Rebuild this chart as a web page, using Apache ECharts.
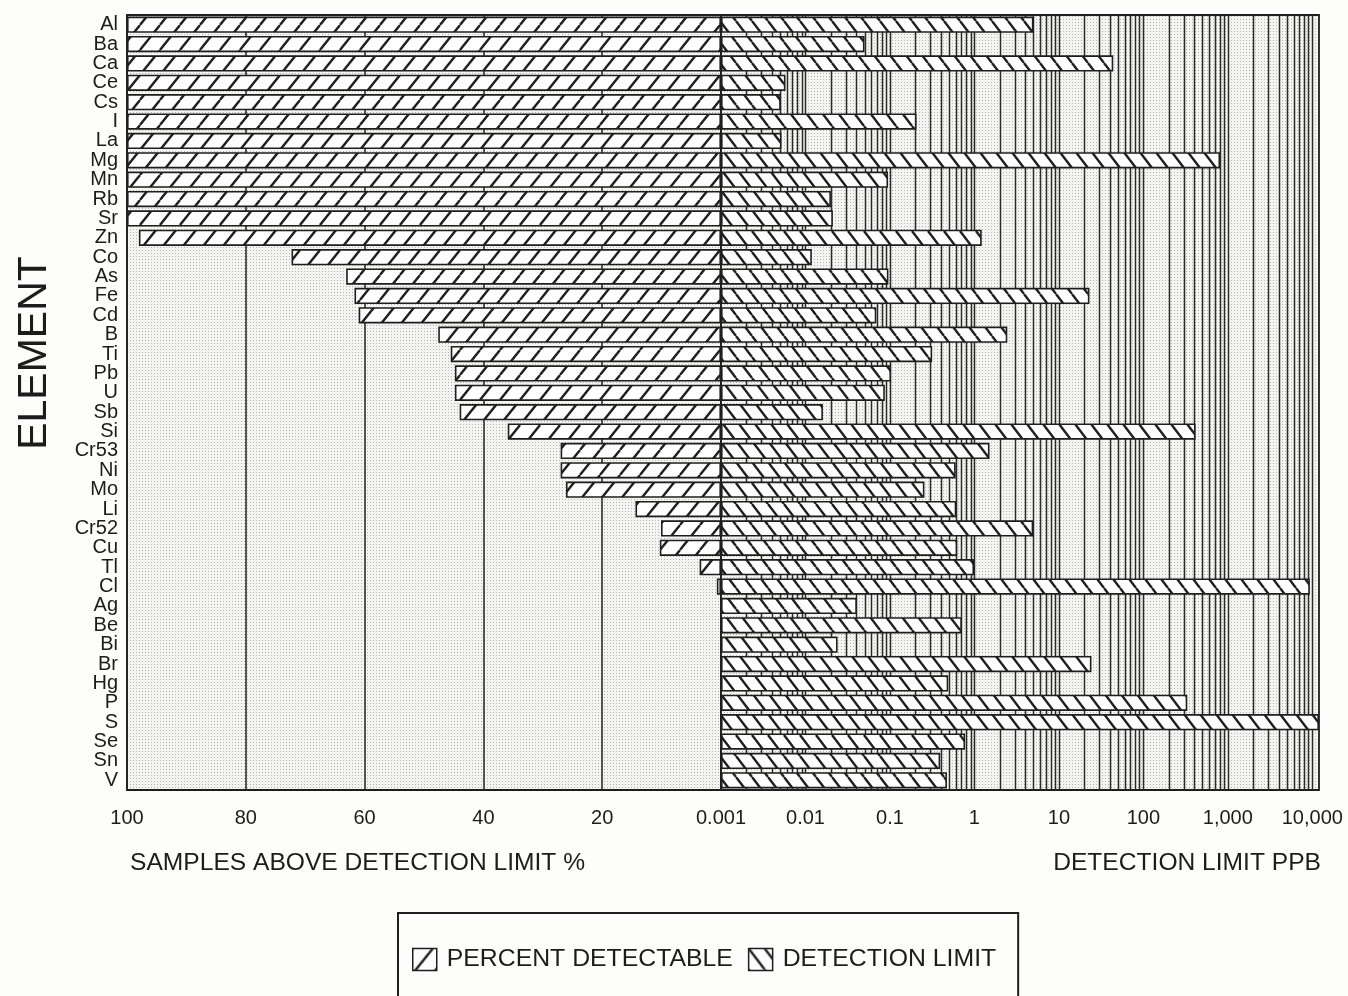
<!DOCTYPE html>
<html>
<head>
<meta charset="utf-8">
<script src="https://cdn.jsdelivr.net/npm/echarts@6/dist/echarts.min.js"></script>
<style>
  html, body { margin: 0; padding: 0; background: #fdfdfc; }
  #chart { width: 1348px; height: 996px; }
</style>
</head>
<body>
<div id="chart"></div>
<script>
// Elements, top to bottom
const elements = ['Al','Ba','Ca','Ce','Cs','I','La','Mg','Mn','Rb','Sr','Zn','Co','As','Fe','Cd','B','Ti','Pb','U','Sb','Si','Cr53','Ni','Mo','Li','Cr52','Cu','Tl','Cl','Ag','Be','Bi','Br','Hg','P','S','Se','Sn','V'];

// Share of samples above the detection limit, %
const percentDetectable = [100,100,100,100,100,100,100,100,100,100,100,98,72.3,63.1,61.7,61,47.6,45.5,44.8,44.8,44,35.9,27,27,26.1,14.4,10.1,10.3,3.6,0.7,0,0,0,0,0,0,0,0,0,0];

// Detection limit, ppb
const detectionLimit = [5.0,0.05,44,0.0058,0.0051,0.206,0.0052,810,0.095,0.020,0.0211,1.22,0.0119,0.096,23,0.069,2.45,0.316,0.103,0.087,0.0161,415,1.51,0.60,0.256,0.61,4.97,0.625,0.99,9350,0.0406,0.71,0.024,24.3,0.49,331,12000,0.776,0.393,0.473];

// Axis tick labels
const percentTickLabels = {100: '100', 80: '80', 60: '60', 40: '40', 20: '20'};
const limitTickLabels = ['0.001','0.01','0.1','1','10','100','1,000','10,000'];
const limitDecades = [-3,-2,-1,0,1,2,3];
const logMantissas = [1,2,3,4,5,6,7,8,9];

const INK = '#1c1c1c';
const FONT = '"Liberation Sans", Arial, Helvetica, sans-serif';

// Fill patterns: diagonal hatching and the stippled plot background
function hatch(w, h, forward) {
  const c = document.createElement('canvas');
  c.width = w; c.height = h;
  const g = c.getContext('2d');
  g.fillStyle = '#fefefe';
  g.fillRect(0, 0, w, h);
  g.strokeStyle = '#202020';
  g.lineWidth = 2.4;
  g.beginPath();
  for (let k = -1; k <= 1; k++) {
    if (forward) { g.moveTo(k * w, h); g.lineTo((k + 1) * w, 0); }
    else { g.moveTo(k * w, 0); g.lineTo((k + 1) * w, h); }
  }
  g.stroke();
  return { image: c, repeat: 'repeat' };
}
function stipple() {
  const c = document.createElement('canvas');
  c.width = 3; c.height = 3;
  const g = c.getContext('2d');
  g.fillStyle = '#f4f4f3';
  g.fillRect(0, 0, 3, 3);
  g.fillStyle = '#b4b4b4';
  g.fillRect(1, 1, 1, 1);
  return { image: c, repeat: 'repeat' };
}

const slashFill = hatch(20, 25, true);
const backslashFill = hatch(16, 21, false);

// Log grid lines of the detection-limit panel
const logGrid = [];
limitDecades.forEach(d => logMantissas.forEach(m => {
  const v = m * Math.pow(10, d);
  if (!(m === 1 && d === -3)) logGrid.push([v, 0]);
}));
logGrid.push([10000, 0]);

const chart = echarts.init(document.getElementById('chart'), null, { renderer: 'canvas' });

const gridCommon = {
  top: 15, height: 775, show: true,
  backgroundColor: stipple(),
  borderColor: '#1e1e1e', borderWidth: 1.8
};

chart.setOption({
  backgroundColor: '#fdfdfc',
  animation: false,
  textStyle: { fontFamily: FONT, color: INK },
  grid: [
    Object.assign({ left: 127, width: 594 }, gridCommon),
    Object.assign({ left: 721, width: 598 }, gridCommon)
  ],
  xAxis: [
    {
      gridIndex: 0, type: 'value', inverse: true, min: 0, max: 100, interval: 20,
      axisLine: { show: false }, axisTick: { show: false },
      axisLabel: {
        fontSize: 20, color: INK, fontFamily: FONT, margin: 18,
        formatter: v => percentTickLabels[v] || ''
      },
      splitLine: { show: true, lineStyle: { color: '#222', width: 1.5 } }
    },
    {
      gridIndex: 1, type: 'log', logBase: 10, min: 0.001, max: 12000, startValue: 0.001,
      axisLine: { show: false }, axisTick: { show: false },
      axisLabel: {
        fontSize: 20, color: INK, fontFamily: FONT, margin: 18,
        showMaxLabel: false,
        formatter: v => {
          const l = Math.log10(v);
          const e = Math.round(l);
          if (Math.abs(l - e) > 1e-6) return '';
          return limitTickLabels[e + 3] || '';
        }
      },
      splitLine: { show: false }
    }
  ],
  yAxis: [
    {
      gridIndex: 0, type: 'category', data: elements, inverse: true,
      axisLine: { show: false }, axisTick: { show: false },
      axisLabel: { interval: 0, fontSize: 20, color: INK, fontFamily: FONT, margin: 9 }
    },
    {
      gridIndex: 1, type: 'category', data: elements, inverse: true,
      axisLine: { show: false }, axisTick: { show: false }, axisLabel: { show: false }
    }
  ],
  legend: {
    data: ['PERCENT DETECTABLE', 'DETECTION LIMIT'],
    icon: 'rect',
    left: 398, top: 913,
    padding: [34, 22, 40, 14],
    itemGap: 15, itemWidth: 24, itemHeight: 22,
    borderColor: '#1e1e1e', borderWidth: 2, borderRadius: 0,
    backgroundColor: '#fdfdfc',
    itemStyle: { borderColor: '#1e1e1e', borderWidth: 1.5 },
    textStyle: { fontSize: 24.8, color: INK, fontFamily: FONT, padding: [0, 0, 0, 5] }
  },
  graphic: [
    {
      type: 'text', x: 35, y: 353, rotation: Math.PI / 2,
      style: { text: 'ELEMENT', font: '41px ' + FONT, fill: INK, textAlign: 'center', textVerticalAlign: 'middle' }
    },
    {
      type: 'text', left: 130, top: 851,
      style: { text: 'SAMPLES ABOVE DETECTION LIMIT %', font: '24.6px ' + FONT, fill: INK }
    },
    {
      type: 'text', right: 27, top: 851,
      style: { text: 'DETECTION LIMIT PPB', font: '24.6px ' + FONT, fill: INK }
    }
  ],
  series: [
    {
      name: 'log grid', type: 'custom', xAxisIndex: 1, yAxisIndex: 1,
      z: 1, silent: true, data: logGrid, encode: { x: 0, y: 1 },
      renderItem: (params, api) => {
        const cs = params.coordSys;
        const x = Math.round(api.coord([api.value(0), 0])[0]) + 0.5;
        return {
          type: 'line',
          shape: { x1: x, y1: cs.y, x2: x, y2: cs.y + cs.height },
          style: { stroke: '#2a2a2a', lineWidth: 1.5 }
        };
      }
    },
    {
      name: 'PERCENT DETECTABLE', type: 'bar', xAxisIndex: 0, yAxisIndex: 0,
      z: 3, barWidth: '84%', data: percentDetectable,
      itemStyle: { color: slashFill, borderColor: '#1e1e1e', borderWidth: 1.6 }
    },
    {
      name: 'DETECTION LIMIT', type: 'bar', xAxisIndex: 1, yAxisIndex: 1,
      z: 3, barWidth: '84%', data: detectionLimit,
      itemStyle: { color: backslashFill, borderColor: '#1e1e1e', borderWidth: 1.6 }
    }
  ]
});
</script>
</body>
</html>
